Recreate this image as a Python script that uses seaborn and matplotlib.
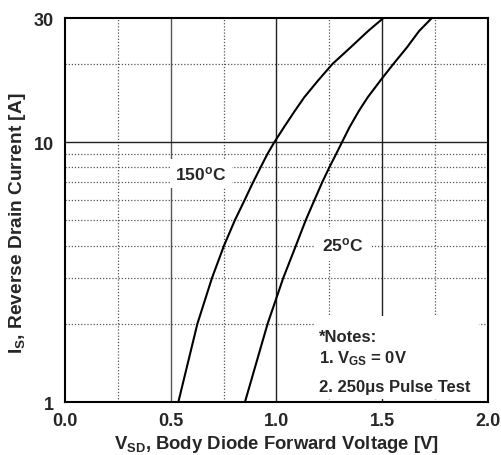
import numpy as np
import pandas as pd
import matplotlib
matplotlib.use('Agg')
import matplotlib.pyplot as plt
from matplotlib.patches import Rectangle
import seaborn as sns

# Curvas (V_SD [V], I_S [A])
vsd_150 = [0.536, 0.626, 0.695, 0.752, 0.803, 0.850, 0.889, 0.925, 0.957, 0.990,
           1.035, 1.087, 1.132, 1.195, 1.265, 1.349, 1.434, 1.505]
is_150 = [1, 2, 3, 4, 5, 6, 7, 8, 9, 10,
          11.4, 13.2, 14.9, 17.2, 20, 23.1, 26.8, 30]
vsd_25 = [0.851, 0.958, 1.032, 1.092, 1.138, 1.180, 1.216, 1.250, 1.282, 1.310,
          1.345, 1.390, 1.432, 1.497, 1.553, 1.616, 1.675, 1.734]
is_25 = [1, 2, 3, 4, 5, 6, 7, 8, 9, 10,
         11.4, 13.2, 14.9, 17.5, 20, 23.1, 26.8, 30]

xticks = [0.0, 0.5, 1.0, 1.5, 2.0]
xtick_labels = ['0.0', '0.5', '1.0', '1.5', '2.0']
yticks = [1, 10, 30]
ytick_labels = ['1', '10', '30']

df = pd.concat([
    pd.DataFrame({'vsd': vsd_150, 'is': is_150, 'temp': '150'}),
    pd.DataFrame({'vsd': vsd_25, 'is': is_25, 'temp': '25'}),
])

sns.set_style('white')
plt.rcParams['font.family'] = ['Liberation Sans', 'DejaVu Sans']
plt.rcParams['font.weight'] = 'bold'
plt.rcParams['mathtext.fontset'] = 'custom'
plt.rcParams['mathtext.rm'] = 'Liberation Sans:bold'
plt.rcParams['mathtext.it'] = 'Liberation Sans:bold'
plt.rcParams['mathtext.bf'] = 'Liberation Sans:bold'
plt.rcParams['mathtext.default'] = 'rm'

fig = plt.figure(figsize=(5.02, 4.56), dpi=100)
ax = fig.add_axes([0.1295, 0.1162, 0.8425, 0.8418])

# grade: linhas cheias nas divisões principais, pontilhadas nas secundárias
for x in [0.25, 0.75, 1.25, 1.75]:
    ax.axvline(x, color='#555555', lw=0.9, ls=(0, (1, 1.5)), zorder=1)
for y in [2, 3, 4, 5, 6, 7, 8, 9, 20]:
    ax.axhline(y, color='#555555', lw=0.9, ls=(0, (1, 1.5)), zorder=1)
for x, c in zip([0.5, 1.0, 1.5], ['#555555', '#222222', '#222222']):
    ax.axvline(x, color=c, lw=1.0, zorder=1)
ax.axhline(10, color='#222222', lw=1.0, zorder=1)

sns.lineplot(data=df, x='vsd', y='is', hue='temp', palette=['black', 'black'],
             linewidth=1.5, legend=False, ax=ax, sort=False, zorder=3)
for ln in ax.get_lines()[-2:]:
    ln.set_solid_joinstyle('round')

ax.set_yscale('log')
ax.set_xlim(0, 2.0)
ax.set_ylim(1, 30)
ax.set_xticks(xticks)
ax.set_xticklabels(xtick_labels)
ax.set_yticks(yticks)
ax.set_yticklabels(ytick_labels)
ax.yaxis.set_minor_locator(matplotlib.ticker.NullLocator())
ax.tick_params(axis='both', length=0, labelsize=13)
ax.tick_params(axis='x', pad=7)
ax.tick_params(axis='y', pad=8)
for lab in ax.get_xticklabels() + ax.get_yticklabels():
    lab.set_fontweight('bold')

for s in ax.spines.values():
    s.set_color('black')
    s.set_linewidth(1.5)
    s.set_zorder(5)

ax.set_xlabel(r'V$_{SD}$, Body Diode Forward Voltage [V]', fontsize=13.3, fontweight='bold', labelpad=3)
ax.set_ylabel(r'I$_{S}$, Reverse Drain Current [A]', fontsize=13.8, fontweight='bold')
ax.yaxis.set_label_coords(-0.088, 0.469)

ax.text(0.643, 7.6, r'150$^{o}$C', fontsize=12.5, fontweight='bold', ha='center', va='center',
        bbox=dict(facecolor='white', edgecolor='none', pad=4), zorder=4)
ax.text(1.314, 4.05, r'25$^{o}$C', fontsize=12.5, fontweight='bold', ha='center', va='center',
        bbox=dict(facecolor='white', edgecolor='none', pad=6), zorder=4)

# caixa de notas
ax.add_patch(Rectangle((0.590, 0.008), 0.39, 0.216, transform=ax.transAxes,
                       facecolor='white', edgecolor='none', zorder=4))
notes = ['*Notes:', '1. V$_{GS}$ = 0V', '2. 250\u03bcs Pulse Test']
notes_y = [0.159, 0.104, 0.029]
for txt, yy in zip(notes, notes_y):
    ax.text(0.600, yy, txt, fontsize=12, fontweight='bold', ha='left', va='baseline',
            transform=ax.transAxes, zorder=5)

fig.savefig('out.png', dpi=100)
